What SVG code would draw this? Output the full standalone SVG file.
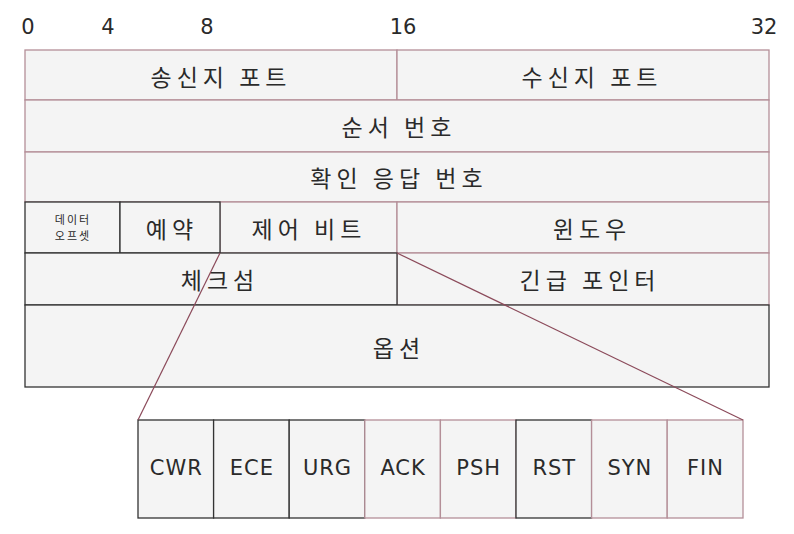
<svg xmlns="http://www.w3.org/2000/svg" width="794" height="534" viewBox="0 0 794 534">
<style>
  .cell { fill: #f4f4f4; stroke: #b48f98; stroke-width: 1.3; }
  .dark { fill: #f4f4f4; stroke: #333; stroke-width: 1.3; }
  .t { font-family: "Noto Sans CJK KR", "Noto Sans", sans-serif; fill: #2a2a2a; text-anchor: middle; dominant-baseline: central; font-size: 23px; letter-spacing: 5px; }
  .s { font-size: 11px; letter-spacing: 2px; }
  .f { font-family: "DejaVu Sans", "Noto Sans", sans-serif; font-size: 21px; letter-spacing: 1px; }
  .n { font-family: "DejaVu Sans", sans-serif; font-size: 21px; fill: #2a2a2a; text-anchor: middle; dominant-baseline: central; }
  .conn { stroke: #8b4a5a; stroke-width: 1.2; fill: none; }
</style>
<rect width="794" height="534" fill="#ffffff"/>
<g id="bits">
  <text class="n" x="28" y="27">0</text>
  <text class="n" x="108" y="27">4</text>
  <text class="n" x="207" y="27">8</text>
  <text class="n" x="403" y="27">16</text>
  <text class="n" x="764" y="27">32</text>
</g>
<g id="src-port"><rect class="cell" x="25" y="50" width="372" height="50"/><text class="t" x="221" y="76">송신지 포트</text></g>
<g id="dst-port"><rect class="cell" x="397" y="50" width="372" height="50"/><text class="t" x="592" y="76">수신지 포트</text></g>
<g id="seq"><rect class="cell" x="25" y="100" width="744" height="52"/><text class="t" x="399" y="126">순서 번호</text></g>
<g id="ack"><rect class="cell" x="25" y="152" width="744" height="50"/><text class="t" x="399" y="177">확인 응답 번호</text></g>
<g id="ctrl"><rect class="cell" x="220" y="202" width="177" height="51"/><text class="t" x="309" y="228">제어 비트</text></g>
<g id="window"><rect class="cell" x="397" y="202" width="372" height="51"/><text class="t" x="592" y="228">윈도우</text></g>
<g id="offset"><rect class="dark" x="25" y="202" width="95" height="51"/><text class="t s" x="73" y="219">데이터</text><text class="t s" x="73" y="235">오프셋</text></g>
<g id="reserved"><rect class="dark" x="120" y="202" width="100" height="51"/><text class="t" x="172" y="228">예약</text></g>
<g id="urgent"><rect class="cell" x="397" y="253" width="372" height="52"/><text class="t" x="590" y="279">긴급 포인터</text></g>
<g id="checksum"><rect class="dark" x="25" y="253" width="372" height="52"/><text class="t" x="220" y="279">체크섬</text></g>
<g id="options"><rect class="dark" x="25" y="305" width="744" height="82"/><text class="t" x="399" y="347">옵션</text></g>
<g id="flags">
  <rect class="dark" x="138" y="420" width="75.6" height="98"/><text class="t f" x="176.3" y="468">CWR</text>
  <rect class="dark" x="213.6" y="420" width="75.6" height="98"/><text class="t f" x="251.9" y="468">ECE</text>
  <rect class="dark" x="289.2" y="420" width="75.6" height="98"/><text class="t f" x="327.5" y="468">URG</text>
  <rect class="cell" x="364.8" y="420" width="75.6" height="98"/><text class="t f" x="403.1" y="468">ACK</text>
  <rect class="cell" x="440.4" y="420" width="75.6" height="98"/><text class="t f" x="478.7" y="468">PSH</text>
  <rect class="dark" x="516" y="420" width="75.6" height="98"/><text class="t f" x="554.3" y="468">RST</text>
  <rect class="cell" x="591.6" y="420" width="75.6" height="98"/><text class="t f" x="629.9" y="468">SYN</text>
  <rect class="cell" x="667.2" y="420" width="75.8" height="98"/><text class="t f" x="705.5" y="468">FIN</text>
</g>
<g id="connectors">
  <line class="conn" x1="220" y1="253" x2="138" y2="420"/>
  <line class="conn" x1="397" y1="253" x2="743" y2="420"/>
</g>
</svg>
